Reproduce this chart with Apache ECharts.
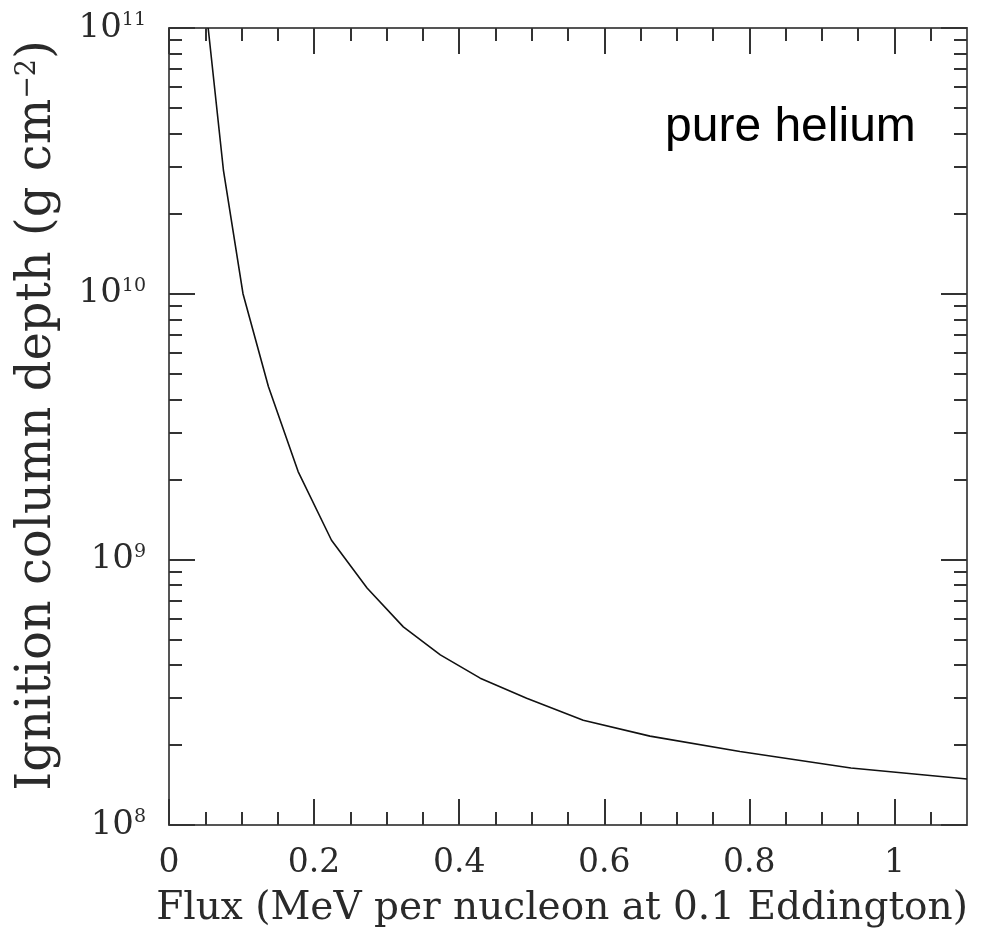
<!DOCTYPE html>
<html><head><meta charset="utf-8">
<script src="https://cdn.jsdelivr.net/npm/echarts@6/dist/echarts.min.js"></script>
<style>html,body{margin:0;padding:0;background:#fff}#c{width:993px;height:932px}</style>
</head><body><div id="c"></div>
<script>
// ---- data ----
const flux  = [0.054, 0.075, 0.102, 0.137, 0.178, 0.224, 0.273, 0.323, 0.374, 0.429, 0.493, 0.571, 0.663, 0.787, 0.940, 1.100];
const depth = [1.0e11, 2.92e10, 1.0e10, 4.47e9, 2.14e9, 1.18e9, 7.8e8, 5.57e8, 4.37e8, 3.57e8, 3.0e8, 2.48e8, 2.16e8, 1.89e8, 1.64e8, 1.49e8];

const xMajorTicks = [0, 0.2, 0.4, 0.6, 0.8, 1.0];
const xMinorTicks = [0.05, 0.1, 0.15, 0.25, 0.3, 0.35, 0.45, 0.5, 0.55, 0.65, 0.7, 0.75, 0.85, 0.9, 0.95, 1.05];
const yDecadeExponents = [8, 9, 10, 11];
const yMinorMultipliers = [2, 3, 4, 5, 6, 7, 8, 9];

const xTitle = 'Flux (MeV per nucleon at 0.1 Eddington)';
const yTitleMain = 'Ignition column depth (g cm';
const yTitleSup = '\u22122';
const yTitleEnd = ')';
const annotation = 'pure helium';

// ---- build ----
const seriesData = flux.map((x, i) => [x, depth[i]]);
const yMinorLog = [];
yDecadeExponents.slice(0, -1).forEach(e => yMinorMultipliers.forEach(m => yMinorLog.push(e + Math.log10(m))));

const SERIF = '"DejaVu Serif", "Liberation Serif", serif';
const TXT = '#2a2a2a';
const frameLine = { show: true, onZero: false, lineStyle: { color: '#555', width: 2 } };
const noLine = { show: false, onZero: false };
const tickStyle = { color: '#333', width: 2 };
const X0 = 0, X1 = 1.1;
const LMIN = 8, LMAX = 11;
const gridRect = { left: 169, right: 26, top: 28, bottom: 107, containLabel: false, outerBoundsMode: 'none' };

function xAxisDef(gridIndex, pos, major, showLine) {
  return {
    gridIndex, type: 'value', position: pos, min: X0, max: X1,
    axisLine: showLine ? frameLine : noLine,
    axisTick: { show: true, inside: true, length: major ? 26 : 13, customValues: major ? xMajorTicks : xMinorTicks, lineStyle: tickStyle },
    axisLabel: { show: false },
    splitLine: { show: false }
  };
}
function yAxisDef(gridIndex, pos, major, showLine) {
  return {
    gridIndex, type: 'value', position: pos, min: LMIN, max: LMAX,
    axisLine: showLine ? frameLine : noLine,
    axisTick: { show: true, inside: true, length: major ? 26 : 13, customValues: major ? yDecadeExponents : yMinorLog, lineStyle: tickStyle },
    axisLabel: { show: false },
    splitLine: { show: false }
  };
}

const chart = echarts.init(document.getElementById('c'), null, { renderer: 'canvas' });
chart.setOption({
  animation: false,
  backgroundColor: '#fff',
  grid: [Object.assign({}, gridRect), Object.assign({}, gridRect)],
  xAxis: [
    {
      gridIndex: 0, type: 'value', position: 'bottom', min: X0, max: X1,
      axisLine: frameLine,
      axisTick: { show: true, inside: true, length: 26, customValues: xMajorTicks, lineStyle: tickStyle },
      axisLabel: { customValues: xMajorTicks, fontFamily: SERIF, fontSize: 33, color: TXT, margin: 22 },
      splitLine: { show: false },
      name: xTitle, nameLocation: 'middle', nameGap: 64,
      nameTextStyle: { fontFamily: SERIF, fontSize: 39, color: TXT, padding: [0, 12, 0, 0] }
    },
    xAxisDef(0, 'top', true, true),
    xAxisDef(1, 'bottom', false, false),
    xAxisDef(1, 'top', false, false)
  ],
  yAxis: [
    {
      gridIndex: 0, type: 'log', logBase: 10, position: 'left', min: 1e8, max: 1e11,
      axisLine: frameLine,
      axisTick: { show: true, inside: true, length: 26, lineStyle: tickStyle },
      minorTick: { show: false },
      axisLabel: {
        margin: 23, color: TXT,
        formatter: v => '{b|10}{s|' + Math.round(Math.log10(v)) + '}',
        rich: {
          b: { fontFamily: SERIF, fontSize: 34, lineHeight: 34, color: TXT },
          s: { fontFamily: SERIF, fontSize: 19, lineHeight: 19, verticalAlign: 'top', color: TXT }
        }
      },
      splitLine: { show: false },
      name: '{m|' + yTitleMain + '}{s|' + yTitleSup + '}{m|' + yTitleEnd + '}',
      nameLocation: 'middle', nameGap: 107, nameRotate: 90,
      nameTextStyle: {
        padding: [0, 0, 0, 22],
        rich: {
          m: { fontFamily: SERIF, fontSize: 48, lineHeight: 48, color: TXT },
          s: { fontFamily: SERIF, fontSize: 27, lineHeight: 27, verticalAlign: 'top', color: TXT }
        }
      }
    },
    yAxisDef(0, 'right', true, true),
    yAxisDef(1, 'left', false, false),
    yAxisDef(1, 'right', false, false)
  ],
  graphic: [{
    type: 'text', left: 665, top: 104,
    style: { text: annotation, font: '48px "Liberation Sans", Arial, sans-serif', fill: '#000' }
  }],
  series: [{
    type: 'line', xAxisIndex: 0, yAxisIndex: 0,
    data: seriesData, showSymbol: false, symbol: 'none', smooth: false,
    lineStyle: { color: '#111', width: 1.6 }, clip: true
  }]
});
</script></body></html>
